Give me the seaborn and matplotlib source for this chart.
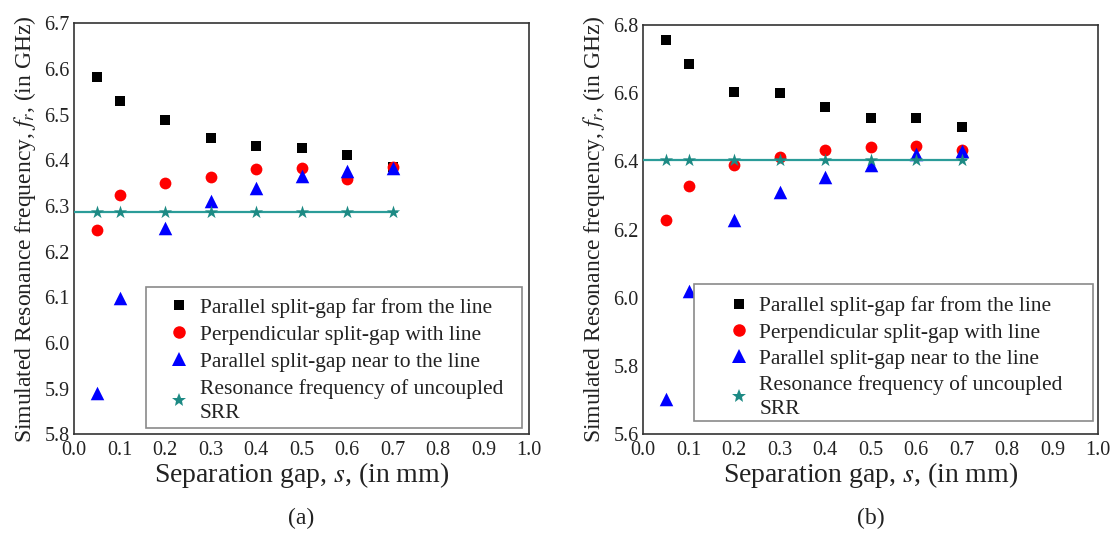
import matplotlib
matplotlib.use("Agg")
import matplotlib.pyplot as plt
from matplotlib.patches import Rectangle
from matplotlib.lines import Line2D
import seaborn as sns
import pandas as pd

# ---------------- data ----------------
s_values = [0.05, 0.1, 0.2, 0.3, 0.4, 0.5, 0.6, 0.7]

a_far = [6.582, 6.530, 6.488, 6.448, 6.432, 6.428, 6.412, 6.386]
a_perp = [6.248, 6.324, 6.351, 6.363, 6.380, 6.384, 6.359, 6.386]
a_near = [5.890, 6.099, 6.251, 6.311, 6.340, 6.366, 6.377, 6.383]
a_srr = 6.287

b_far = [6.757, 6.685, 6.604, 6.600, 6.560, 6.528, 6.527, 6.501]
b_perp = [6.228, 6.327, 6.388, 6.414, 6.434, 6.441, 6.445, 6.434]
b_near = [5.704, 6.021, 6.228, 6.311, 6.355, 6.388, 6.422, 6.429]
b_srr = 6.404

srr_line_x = [0.0, 0.71]

x_ticks = [0.0, 0.1, 0.2, 0.3, 0.4, 0.5, 0.6, 0.7, 0.8, 0.9, 1.0]
a_yticks = [5.8, 5.9, 6.0, 6.1, 6.2, 6.3, 6.4, 6.5, 6.6, 6.7]
b_yticks = [5.6, 5.8, 6.0, 6.2, 6.4, 6.6, 6.8]

labels = ["Parallel split-gap far from the line",
          "Perpendicular split-gap with line",
          "Parallel split-gap near to the line",
          "Resonance frequency of uncoupled\nSRR"]
captions = ["(a)", "(b)"]

# ---------------- style ----------------
sns.set_style("white")
plt.rcParams['font.family'] = ['Liberation Serif', 'DejaVu Serif']
plt.rcParams['mathtext.fontset'] = 'stix'

fig = plt.figure(figsize=(11.15, 5.33), dpi=100)

panels = [
    dict(pos=[0.0664, 0.1852, 0.4081, 0.7711], far=a_far, perp=a_perp, near=a_near,
         srr=a_srr, ylim=(5.8, 6.7), yticks=a_yticks,
         rect=(0.158, 0.016, 0.827, 0.342), leg=(0.2095, 0.332), ls=0.32),
    dict(pos=[0.5767, 0.1852, 0.4083, 0.7680], far=b_far, perp=b_perp, near=b_near,
         srr=b_srr, ylim=(5.6, 6.8), yticks=b_yticks,
         rect=(0.112, 0.033, 0.876, 0.333), leg=(0.1895, 0.337), ls=0.28),
]

teal_line = "#2b9c99"
teal_star = "#1d8a84"
markers = ["s", "o", "^", "*"]
colors = ["black", "#ff0000", "#0000ff", teal_star]
marker_sizes = [58, 72, 95, 100]
legend_ms = [7.5, 9.0, 10.5, 10.5]

for i, p in enumerate(panels):
    ax = fig.add_axes(p["pos"])
    df = pd.DataFrame({"s": s_values, "far": p["far"], "perp": p["perp"],
                       "near": p["near"], "srr": [p["srr"]] * len(s_values)})
    line_df = pd.DataFrame({"s": srr_line_x, "srr": [p["srr"]] * len(srr_line_x)})

    for k, col in enumerate(["far", "perp", "near"]):
        sns.scatterplot(data=df, x="s", y=col, marker=markers[k], s=marker_sizes[k],
                        color=colors[k], linewidth=0, ax=ax, zorder=3 + k, legend=False)
    sns.lineplot(data=line_df, x="s", y="srr", color=teal_line, linewidth=1.6,
                 ax=ax, zorder=6, legend=False)
    sns.scatterplot(data=df, x="s", y="srr", marker=markers[3], s=marker_sizes[3],
                    color=colors[3], linewidth=0, ax=ax, zorder=7, legend=False)

    ax.set_xlim(0, 1.0)
    ax.set_ylim(*p["ylim"])
    ax.set_xticks(x_ticks)
    ax.set_xticklabels(["%.1f" % v for v in x_ticks])
    ax.set_yticks(p["yticks"])
    ax.set_yticklabels(["%.1f" % v for v in p["yticks"]])
    ax.tick_params(axis="both", length=0, labelsize=14.5, colors="#222222")
    ax.tick_params(axis="x", pad=5)
    ax.tick_params(axis="y", pad=3)
    for sp in ax.spines.values():
        sp.set_color("#333333")
        sp.set_linewidth(1.2)
        sp.set_visible(True)

    ax.set_xlabel("Separation gap, $s$, (in mm)", fontsize=20, color="#222222", labelpad=0)
    ax.set_ylabel("Simulated Resonance frequency, $f_r$, (in GHz)", fontsize=17,
                  color="#222222", labelpad=5)

    handles = [Line2D([], [], linestyle="none", marker=m, color=c, markersize=ms,
                      markeredgewidth=0)
               for m, c, ms in zip(markers, colors, legend_ms)]
    leg = ax.legend(handles, labels, loc="upper left", bbox_to_anchor=p["leg"],
                    frameon=False, fontsize=15.5, borderpad=0, borderaxespad=0,
                    handlelength=0.9, handletextpad=0.5, labelspacing=p["ls"])
    for t in leg.get_texts():
        t.set_linespacing(1.4)
        t.set_color("#222222")
    leg.set_zorder(10)

    r = p["rect"]
    ax.add_patch(Rectangle((r[0], r[1]), r[2], r[3], transform=ax.transAxes,
                           facecolor="white", edgecolor="#8a8a8a", linewidth=1.2,
                           zorder=9))

    ax.text(0.5, -0.205, captions[i], transform=ax.transAxes, ha="center",
            va="center", fontsize=17, color="#222222")

fig.savefig("out.png", dpi=100)
